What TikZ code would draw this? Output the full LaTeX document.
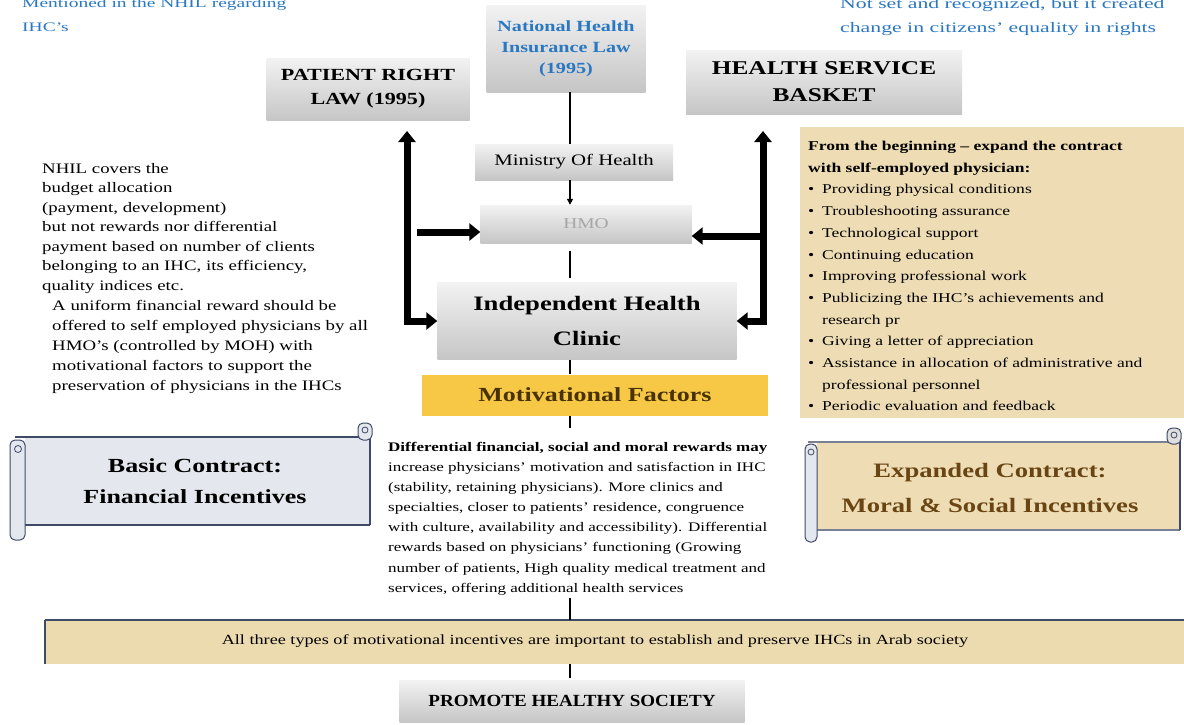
\documentclass[tikz,border=0pt]{standalone}
\usepackage{fontspec}
\setmainfont[FakeStretch=1.12]{Liberation Serif}
\newfontfamily\wide[FakeStretch=1.3,Ligatures=TeX]{Liberation Serif}
\newfontfamily\xwide[FakeStretch=1.5,Ligatures=TeX]{Liberation Serif}
\usetikzlibrary{arrows.meta,calc}
\definecolor{bluetxt}{HTML}{2A78C2}
\definecolor{gold}{HTML}{F6C845}
\definecolor{tan}{HTML}{EEDDB4}
\definecolor{tanband}{HTML}{EDDBB0}
\definecolor{scrollline}{HTML}{3F4A66}
\definecolor{marble}{HTML}{E4E8EE}
\definecolor{browntxt}{HTML}{6A4514}
\definecolor{mftxt}{HTML}{4A3200}
\begin{document}
\begin{tikzpicture}[x=1pt,y=-1pt,
  gbox/.style={inner sep=2pt, align=center, top color=gray!10, bottom color=gray!45, draw=none},
  bigarrow/.style={line width=7pt, -{Triangle[width=17pt,length=11pt]}},
  bigarrows/.style={line width=7pt, {Triangle[width=17pt,length=11pt]}-{Triangle[width=17pt,length=11pt]}},
  thinline/.style={line width=2.6pt},
  smallarrow/.style={line width=1.6pt, -{Triangle[width=6pt,length=6pt]}},
  plain/.style={inner sep=0pt, align=left, anchor=north west}
]
\useasboundingbox (0,0) rectangle (1184,724);
\fill[white] (0,0) rectangle (1184,724);
\coordinate (cx) at (570,0);

% top blue texts
\node[plain, text=bluetxt, font=\xwide\fontsize{13}{24}\selectfont] (tl) at (22,-2) {Mentioned in the NHIL regarding\\IHC's};
\node[plain, text=bluetxt, font=\xwide\fontsize{14.5}{24}\selectfont] (tr) at (840,-2) {Not set and recognized, but it created\\change in citizens' equality in rights};

% top boxes
\node[gbox, minimum width=159pt, minimum height=87pt, text=bluetxt, font=\wide\fontsize{15.5}{21}\selectfont\bfseries] (nhil) at (566,48.5) {National Health\\Insurance Law\\(1995)};
\node[gbox, minimum width=203pt, minimum height=62pt, font=\wide\fontsize{17}{24}\selectfont\bfseries] (prl) at (368,89) {PATIENT RIGHT\\LAW (1995)};
\node[gbox, minimum width=276pt, minimum height=64pt, font=\wide\fontsize{19.5}{27}\selectfont\bfseries] (hsb) at (824,82) {HEALTH SERVICE\\BASKET};

\node[gbox, minimum width=198pt, minimum height=36pt, font=\wide\fontsize{16}{20}\selectfont] (moh) at (574,162) {Ministry Of Health};
\node[gbox, minimum width=211pt, minimum height=38pt, text=gray!70, font=\wide\fontsize{15}{20}\selectfont] (hmo) at (586,224) {HMO};
\node[gbox, minimum width=299pt, minimum height=77pt, font=\wide\fontsize{20.5}{35}\selectfont\bfseries] (ihc) at (587,321) {Independent Health\\Clinic};
\node[fill=gold, minimum width=346pt, minimum height=41pt, text=mftxt, font=\wide\fontsize{20}{24}\selectfont\bfseries] (mf) at (595,395) {Motivational Factors};

% left texts
\node[plain, font=\wide\fontsize{14.5}{19.5}\selectfont] (lt1) at (42,163) {NHIL covers the\\budget allocation\\(payment, development)\\but not rewards nor differential\\payment based on number of clients\\belonging to an IHC, its efficiency,\\quality indices etc.};
\node[plain, font=\wide\fontsize{14.5}{20}\selectfont] (lt2) at (52,300) {A uniform financial reward should be\\offered to self employed physicians by all\\HMO's (controlled by MOH) with\\motivational factors to support the\\preservation of physicians in the IHCs};

% right tan box
\fill[tan] (800,127) rectangle (1184,418);
\node[plain, font=\wide\fontsize{13.5}{21.7}\selectfont] (rt) at (808,141) {\textbf{From the beginning -- expand the contract}\\\textbf{with self-employed physician:}\\
\makebox[14pt][l]{•}Providing physical conditions\\
\makebox[14pt][l]{•}Troubleshooting assurance\\
\makebox[14pt][l]{•}Technological support\\
\makebox[14pt][l]{•}Continuing education\\
\makebox[14pt][l]{•}Improving professional work\\
\makebox[14pt][l]{•}Publicizing the IHC's achievements and\\
\makebox[14pt][l]{}research pr\\
\makebox[14pt][l]{•}Giving a letter of appreciation\\
\makebox[14pt][l]{•}Assistance in allocation of administrative and\\
\makebox[14pt][l]{}professional personnel\\
\makebox[14pt][l]{•}Periodic evaluation and feedback};

% center text
\node[plain, font=\wide\fontsize{13.1}{20.1}\selectfont] (ct) at (388,442) {\textbf{Differential financial, social and moral rewards may}\\
increase physicians' motivation and satisfaction in IHC\\
(stability, retaining physicians). More clinics and\\
specialties, closer to patients' residence, congruence\\
with culture, availability and accessibility). Differential\\
rewards based on physicians' functioning (Growing\\
number of patients, High quality medical treatment and\\
services, offering additional health services};

% Basic scroll
\fill[marble] (25,437) rectangle (370,525);
\draw[scrollline, line width=1.6pt] (15,437) -- (360,437);
\draw[scrollline, line width=1.6pt] (25,525) -- (370,525);
\draw[scrollline, line width=1.2pt] (370,430) -- (370,525);
\filldraw[fill=marble, draw=scrollline, line width=1pt, rounded corners=5pt] (358,423) rectangle (372,440);
\draw[scrollline, line width=0.8pt] (365,430) circle (3pt);
\filldraw[fill=marble, draw=scrollline, line width=1pt, rounded corners=5pt] (10,440) rectangle (25,540);
\draw[scrollline, line width=0.8pt] (18,449) circle (3.5pt);
\node[font=\wide\fontsize{20}{31}\selectfont\bfseries, align=center] (basic) at (195,481) {Basic Contract:\\Financial Incentives};

% Expanded scroll
\fill[tan] (817,442) rectangle (1180,530);
\draw[scrollline!70, line width=1.2pt] (808,442) -- (1170,442);
\draw[scrollline!70, line width=1.2pt] (817,530) -- (1180,530);
\draw[scrollline, line width=1.2pt] (1180,434) -- (1180,530);
\filldraw[fill=gray!25, draw=scrollline, line width=1pt, rounded corners=5pt] (1167,428) rectangle (1181,444);
\draw[scrollline, line width=0.8pt] (1174,435) circle (3pt);
\filldraw[fill=marble, draw=scrollline, line width=1pt, rounded corners=5pt] (805,444) rectangle (817,542);
\draw[scrollline, line width=0.8pt] (811,452) circle (3pt);
\node[font=\wide\fontsize{20.5}{35}\selectfont\bfseries, align=center, text=browntxt] (exp) at (990,488) {Expanded Contract:\\Moral \& Social Incentives};

% bottom band
\fill[tanband] (45,620) rectangle (1184,664);
\draw[scrollline, line width=2pt] (45,620) -- (1184,620);
\draw[scrollline, line width=1.2pt] (45,620) -- (45,664);
\node[font=\wide\fontsize{14}{16}\selectfont, inner sep=0pt] (band) at (595,641) {All three types of motivational incentives are important to establish and preserve IHCs in Arab society};
\coordinate (bandtop) at (570,620);
\coordinate (bandbot) at (570,664);

\node[gbox, minimum width=345pt, minimum height=42pt, font=\fontsize{17}{22}\selectfont\bfseries] (phs) at (572,701) {PROMOTE HEALTHY SOCIETY};

% connectors
\coordinate (ctop) at (570,428);
\coordinate (cbot) at (570,598);
\draw[thinline] (nhil.south -| cx) -- (moh.north -| cx);
\draw[smallarrow] (moh.south -| cx) -- (hmo.north -| cx);
\draw[thinline] ($(hmo.south -| cx)+(0,8)$) -- ($(ihc.north -| cx)+(0,-4)$);
\draw[thinline] (ihc.south -| cx) -- (mf.north -| cx);
\draw[thinline] (mf.south -| cx) -- (ctop);
\draw[thinline] (cbot) -- (bandtop);
\draw[thinline] (bandbot) -- ($(phs.north -| cx)+(0,-2)$);

\coordinate (ltop) at (407,131);
\coordinate (rtop) at (763,131);
\coordinate (lh) at (417,232);
\coordinate (rh) at (763,236);
\draw[bigarrows] (ltop) |- (ihc.west);
\draw[bigarrows] (rtop) |- (ihc.east);
\draw[bigarrow] (lh) -- (hmo.west |- lh);
\draw[bigarrow] (rh) -- (hmo.east |- rh);
\end{tikzpicture}
\end{document}
